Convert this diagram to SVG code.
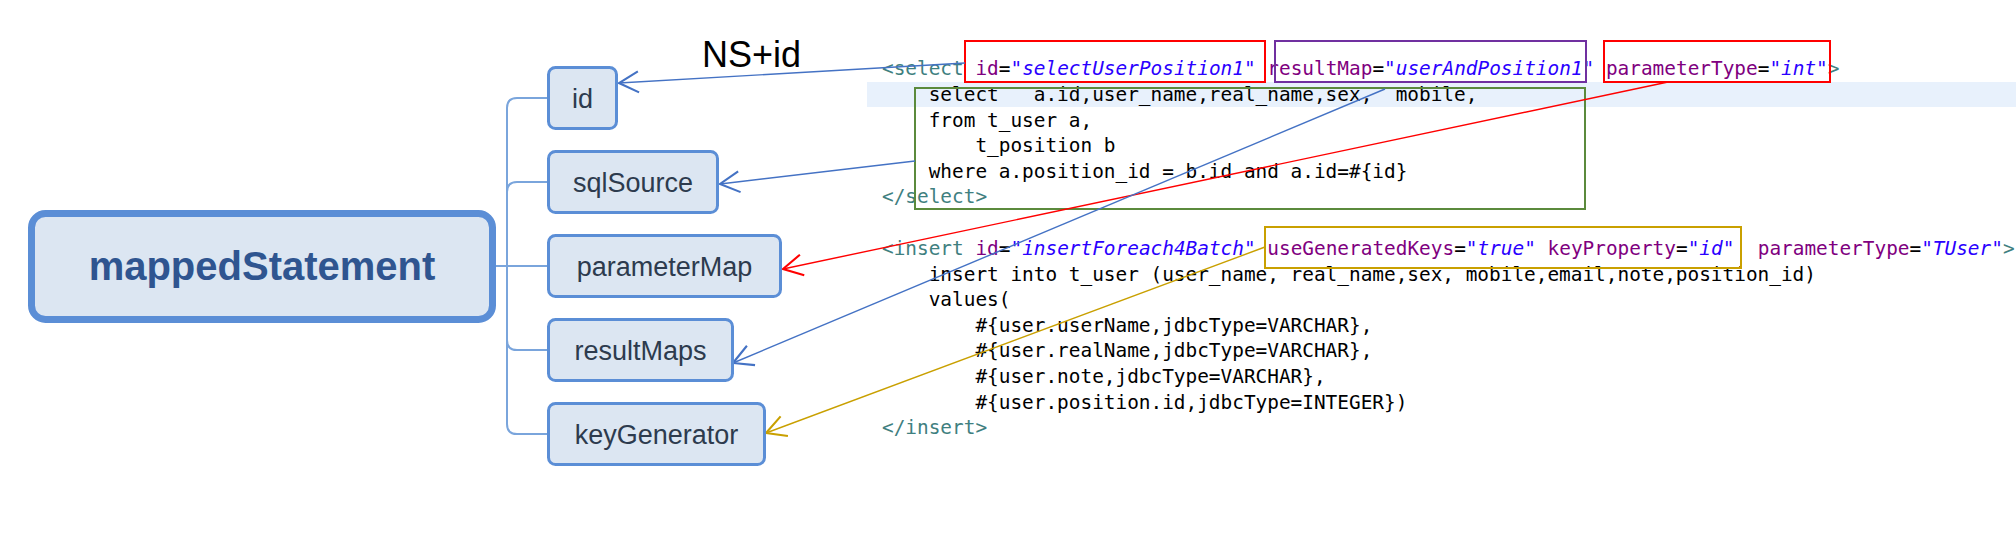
<svg xmlns="http://www.w3.org/2000/svg" width="2016" height="539" viewBox="0 0 2016 539">
<style>
.node rect{fill:#dce6f2;stroke:#5b8ed6;stroke-width:3}
.node text{font-family:"Liberation Sans",Arial,sans-serif;font-size:27px;fill:#2d3b4e;text-anchor:middle}
.tree{fill:none;stroke:#7aa5dc;stroke-width:2}
.code{font-family:"DejaVu Sans Mono","Liberation Mono",monospace;font-size:19.4px;fill:#000}
.tag{fill:#3f8080}
.an{fill:#7f007f}
.av{fill:#2a00ff;font-style:italic}
.hl{fill:none;stroke-width:2}
</style>
<defs>
<marker id="ab" markerUnits="userSpaceOnUse" markerWidth="30" markerHeight="30" viewBox="-15 -10 20 20" refX="0" refY="0" orient="auto"><path d="M-13,-7 L0,0 L-13,7" fill="none" stroke="#4472c4" stroke-width="1.4"/></marker>
<marker id="ar" markerUnits="userSpaceOnUse" markerWidth="30" markerHeight="30" viewBox="-15 -10 20 20" refX="0" refY="0" orient="auto"><path d="M-13,-7 L0,0 L-13,7" fill="none" stroke="#ff0000" stroke-width="1.4"/></marker>
<marker id="ag" markerUnits="userSpaceOnUse" markerWidth="30" markerHeight="30" viewBox="-15 -10 20 20" refX="0" refY="0" orient="auto"><path d="M-13,-7 L0,0 L-13,7" fill="none" stroke="#c9a000" stroke-width="1.4"/></marker>
</defs>
<rect width="2016" height="539" fill="#fff"/>
<rect x="867" y="82" width="1149" height="25" fill="#e8f1fc"/>

<g id="code" class="code">
<text x="882" y="75"><tspan class="tag">&lt;select</tspan> <tspan class="an">id</tspan>=<tspan class="av">"selectUserPosition1"</tspan> <tspan class="an">resultMap</tspan>=<tspan class="av">"userAndPosition1"</tspan> <tspan class="an">parameterType</tspan>=<tspan class="av">"int"</tspan><tspan class="tag">&gt;</tspan></text>
<text x="928.7" y="101">select&#160;&#160;&#160;a.id,user_name,real_name,sex,&#160;&#160;mobile,</text>
<text x="928.7" y="126.5">from t_user a,</text>
<text x="975.4" y="152">t_position b</text>
<text x="928.7" y="177.5">where a.position_id = b.id and a.id=#{id}</text>
<text x="882" y="203" class="tag">&lt;/select&gt;</text>
<text x="882" y="255"><tspan class="tag">&lt;insert</tspan> <tspan class="an">id</tspan>=<tspan class="av">"insertForeach4Batch"</tspan> <tspan class="an">useGeneratedKeys</tspan>=<tspan class="av">"true"</tspan> <tspan class="an">keyProperty</tspan>=<tspan class="av">"id"</tspan>&#160;&#160;<tspan class="an">parameterType</tspan>=<tspan class="av">"TUser"</tspan><tspan class="tag">&gt;</tspan></text>
<text x="928.7" y="280.5">insert into t_user (user_name, real_name,sex, mobile,email,note,position_id)</text>
<text x="928.7" y="306">values(</text>
<text x="975.4" y="331.5">#{user.userName,jdbcType=VARCHAR},</text>
<text x="975.4" y="357">#{user.realName,jdbcType=VARCHAR},</text>
<text x="975.4" y="383">#{user.note,jdbcType=VARCHAR},</text>
<text x="975.4" y="408.5">#{user.position.id,jdbcType=INTEGER})</text>
<text x="882" y="434" class="tag">&lt;/insert&gt;</text>
</g>

<g id="highlights">
<rect class="hl" x="965" y="41" width="300" height="41" stroke="#ff0000"/>
<rect class="hl" x="1275" y="41" width="311" height="41" stroke="#7030a0"/>
<rect class="hl" x="1604" y="41" width="226" height="41" stroke="#ff0000"/>
<rect class="hl" x="915" y="88" width="670" height="121" stroke="#5b8a3c"/>
<rect class="hl" x="1265" y="227" width="476" height="41" stroke="#c9a000"/>
</g>

<text id="ns-label" x="702" y="67" font-family="'Liberation Sans',Arial,sans-serif" font-size="36" fill="#000">NS+id</text>

<g id="connectors">
<path class="tree" d="M493,266 H547"/>
<path class="tree" d="M547,98 H517 Q507,98 507,108 V424 Q507,434 517,434 H547"/>
<path class="tree" d="M547,182 H517 Q507,182 507,192"/>
<path class="tree" d="M507,340 Q507,350 517,350 H547"/>
<line x1="965" y1="63" x2="619" y2="83" stroke="#4472c4" stroke-width="1.4" marker-end="url(#ab)"/>
<line x1="915" y1="161" x2="720" y2="184" stroke="#4472c4" stroke-width="1.4" marker-end="url(#ab)"/>
<line x1="1668" y1="82" x2="783" y2="269" stroke="#ff0000" stroke-width="1.4" marker-end="url(#ar)"/>
<line x1="1385" y1="89" x2="733" y2="363" stroke="#4472c4" stroke-width="1.4" marker-end="url(#ab)"/>
<line x1="1265" y1="247" x2="766" y2="433" stroke="#c9a000" stroke-width="1.4" marker-end="url(#ag)"/>
</g>

<g id="mappedStatement">
<rect x="31.5" y="213.5" width="461" height="106" rx="14" fill="#dce6f2" stroke="#5b8ed6" stroke-width="7"/>
<text x="262" y="280" font-family="'Liberation Sans',Arial,sans-serif" font-size="40" font-weight="bold" fill="#2f5590" text-anchor="middle">mappedStatement</text>
</g>
<g id="node-id" class="node"><rect x="548.5" y="67.5" width="68" height="61" rx="7"/><text x="582.5" y="108">id</text></g>
<g id="node-sqlSource" class="node"><rect x="548.5" y="151.5" width="169" height="61" rx="7"/><text x="633" y="192">sqlSource</text></g>
<g id="node-parameterMap" class="node"><rect x="548.5" y="235.5" width="232" height="61" rx="7"/><text x="664.5" y="276">parameterMap</text></g>
<g id="node-resultMaps" class="node"><rect x="548.5" y="319.5" width="184" height="61" rx="7"/><text x="640.5" y="360">resultMaps</text></g>
<g id="node-keyGenerator" class="node"><rect x="548.5" y="403.5" width="216" height="61" rx="7"/><text x="656.5" y="444">keyGenerator</text></g>
</svg>
